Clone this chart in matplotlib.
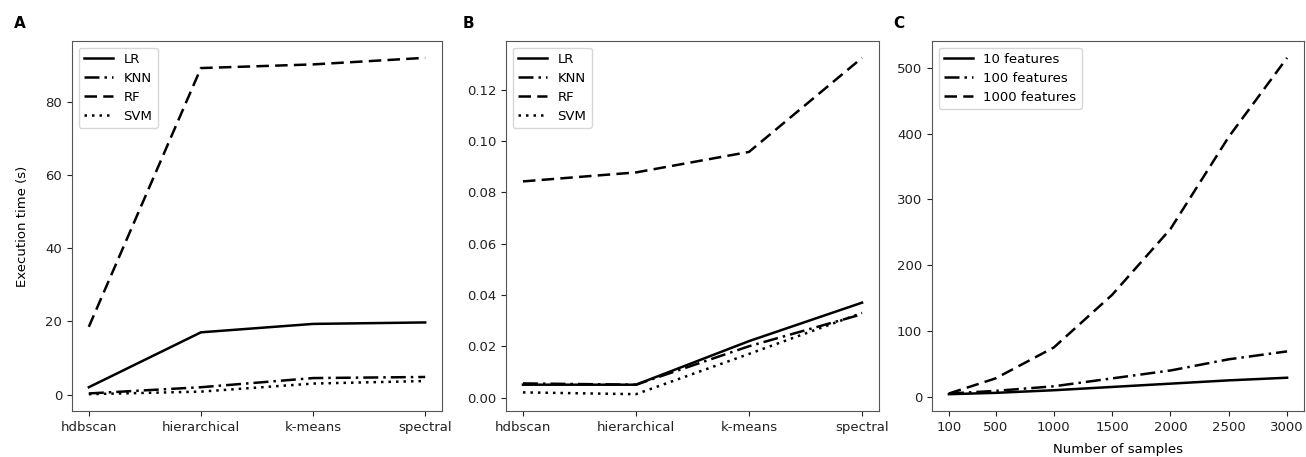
import matplotlib
matplotlib.use("Agg")
from matplotlib import pyplot as plt

# ── Data ──────────────────────────────────────────────────────────────────────
methods = ["hdbscan", "hierarchical", "k-means", "spectral"]

# Panel A: execution time (s)
a_lr  = [2.0, 17.0, 19.3, 19.7]
a_knn = [0.3, 2.0, 4.5, 4.8]
a_rf  = [18.5, 89.2, 90.2, 92.0]
a_svm = [0.1, 0.8, 3.0, 3.7]

# Panel B
b_lr  = [0.0050, 0.0050, 0.0220, 0.0370]
b_knn = [0.0055, 0.0050, 0.0200, 0.0325]
b_rf  = [0.0843, 0.0878, 0.0958, 0.1325]
b_svm = [0.0020, 0.0013, 0.0170, 0.0330]

# Panel C
n_samples = [100, 500, 1000, 1500, 2000, 2500, 3000]
c_10   = [4, 6, 10, 15, 20, 25, 29]
c_100  = [5, 9, 16, 28, 40, 57, 69]
c_1000 = [5, 28, 75, 155, 255, 395, 515]

# ── Styles ────────────────────────────────────────────────────────────────────
LW = 1.8
STYLES = {
    "LR":  "-",
    "KNN": (0, (6, 2, 1, 2)),
    "RF":  (0, (5, 2.5)),
    "SVM": (0, (1, 2)),
}
FS = 9.5

fig = plt.figure(figsize=(13.06, 4.57), dpi=100)
ax_a = fig.add_axes([72 / 1306, 46 / 457, 370 / 1306, 370 / 457])
ax_b = fig.add_axes([506 / 1306, 46 / 457, 373 / 1306, 370 / 457])
ax_c = fig.add_axes([932 / 1306, 46 / 457, 372 / 1306, 370 / 457])


def _style(ax):
    ax.tick_params(labelsize=FS, colors="#222222")
    for spine in ax.spines.values():
        spine.set_edgecolor("#555555")
        spine.set_linewidth(0.8)


for ax, (lr, knn, rf, svm) in (
    (ax_a, (a_lr, a_knn, a_rf, a_svm)),
    (ax_b, (b_lr, b_knn, b_rf, b_svm)),
):
    ax.plot(methods, lr, color="black", lw=LW, ls=STYLES["LR"], label="LR")
    ax.plot(methods, knn, color="black", lw=LW, ls=STYLES["KNN"], label="KNN")
    ax.plot(methods, rf, color="black", lw=LW, ls=STYLES["RF"], label="RF")
    ax.plot(methods, svm, color="black", lw=LW, ls=STYLES["SVM"], label="SVM")
    ax.legend(loc="upper left", fontsize=FS, handlelength=2.2, labelspacing=0.45)
    _style(ax)

ax_a.set_ylabel("Execution time (s)", fontsize=FS, labelpad=12)
ax_a.set_yticks([0, 20, 40, 60, 80])
ax_b.set_yticks([0.00, 0.02, 0.04, 0.06, 0.08, 0.10, 0.12])
ax_b.yaxis.set_major_formatter(matplotlib.ticker.FormatStrFormatter("%.2f"))

ax_c.plot(n_samples, c_10, color="black", lw=LW, ls=STYLES["LR"], label="10 features")
ax_c.plot(n_samples, c_100, color="black", lw=LW, ls=STYLES["KNN"], label="100 features")
ax_c.plot(n_samples, c_1000, color="black", lw=LW, ls=STYLES["RF"], label="1000 features")
ax_c.set_xticks(n_samples)
ax_c.set_yticks([0, 100, 200, 300, 400, 500])
ax_c.set_xlabel("Number of samples", fontsize=FS, labelpad=7)
ax_c.legend(loc="upper left", fontsize=FS, handlelength=2.2, labelspacing=0.45)
_style(ax_c)

for ax, letter, x in ((ax_a, "A", 14), (ax_b, "B", 463), (ax_c, "C", 893)):
    fig.text(x / 1306, 1 - 24 / 457, letter, fontsize=11, fontweight="bold",
             ha="left", va="center")

fig.savefig("out.png", dpi=100)
